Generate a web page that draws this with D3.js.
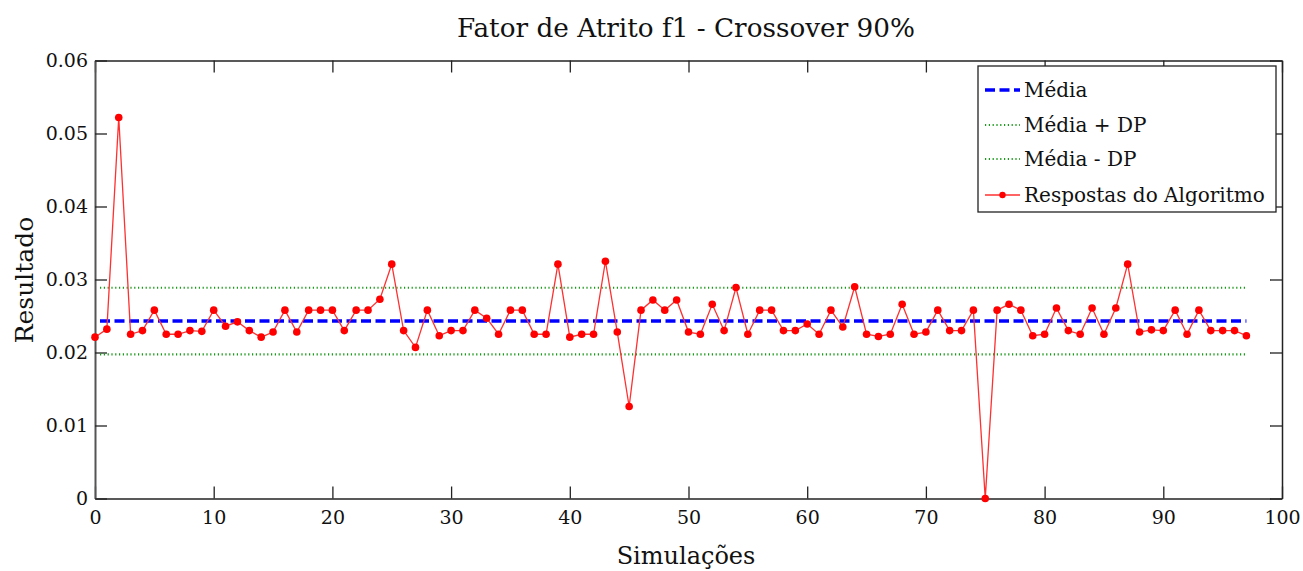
<!DOCTYPE html>
<html><head><meta charset="utf-8">
<script src="https://cdn.jsdelivr.net/npm/d3@7"></script>
<style>body{margin:0;background:#fff}svg{display:block}text{font-family:"DejaVu Serif",serif;fill:#111}</style>
</head><body><svg id="c" width="1303" height="571"></svg>
<script>
const simulations = d3.range(0, 98);
const results = [0.0221,0.0232,0.0522,0.0225,0.0230,0.0258,0.0225,0.0225,0.0230,0.0229,
0.0258,0.0236,0.0242,0.0230,0.0221,0.0228,0.0258,0.0228,0.0258,0.0258,
0.0258,0.0230,0.0258,0.0258,0.0273,0.0321,0.0230,0.0207,0.0258,0.0223,
0.0230,0.0230,0.0258,0.0247,0.0225,0.0258,0.0258,0.0225,0.0225,0.0321,
0.0221,0.0225,0.0225,0.0325,0.0228,0.0126,0.0258,0.0272,0.0258,0.0272,
0.0228,0.0225,0.0266,0.0230,0.0289,0.0225,0.0258,0.0258,0.0230,0.0230,
0.0239,0.0225,0.0258,0.0235,0.0290,0.0225,0.0222,0.0225,0.0266,0.0225,
0.0228,0.0258,0.0230,0.0230,0.0258,0.0000,0.0258,0.0266,0.0258,0.0223,
0.0225,0.0261,0.0230,0.0225,0.0261,0.0225,0.0261,0.0321,0.0228,0.0231,
0.0230,0.0258,0.0225,0.0258,0.0230,0.0230,0.0230,0.0223];
const mean = 0.0243;
const sd = 0.00457;
const xTicks = [0,10,20,30,40,50,60,70,80,90,100];
const yTicks = [0,0.01,0.02,0.03,0.04,0.05,0.06];
const legendLabels = ["Média","Média + DP","Média - DP","Respostas do Algoritmo"];
const titleText = "Fator de Atrito f1 - Crossover 90%";
const xLabel = "Simulações", yLabel = "Resultado";

const svg = d3.select("#c");
const L=95, R=1282, T=60.5, B=498.5;
const x = d3.scaleLinear().domain([0,100]).range([L,R]);
const y = d3.scaleLinear().domain([0,0.06]).range([B,T]);

const fmtY = d => d===0 ? "0" : d3.format(".2f")(d);
svg.append("g").attr("transform",`translate(0,${B})`)
  .call(d3.axisBottom(x).tickValues(xTicks).tickSizeInner(-12).tickSizeOuter(0).tickPadding(12))
  .call(g=>{g.select(".domain").attr("stroke","#222").attr("stroke-width",1.5);g.selectAll("line").attr("stroke","#222").attr("stroke-width",1.3);g.selectAll("text").attr("font-size",19).attr("font-family","DejaVu Serif").attr("fill","#111");});
svg.append("g").attr("transform",`translate(0,${T})`)
  .call(d3.axisTop(x).tickValues(xTicks).tickSizeInner(-12).tickSizeOuter(0).tickFormat(""))
  .call(g=>{g.select(".domain").attr("stroke","#222").attr("stroke-width",1.3);g.selectAll("line").attr("stroke","#222").attr("stroke-width",1.3);});
svg.append("g").attr("transform",`translate(${L},0)`)
  .call(d3.axisLeft(y).tickValues(yTicks).tickSizeInner(-12).tickSizeOuter(0).tickPadding(7).tickFormat(fmtY))
  .call(g=>{g.select(".domain").attr("stroke","#555").attr("stroke-width",2);g.selectAll("line").attr("stroke","#222").attr("stroke-width",1.3);g.selectAll("text").attr("font-size",19).attr("font-family","DejaVu Serif").attr("fill","#111");});
svg.append("g").attr("transform",`translate(${R},0)`)
  .call(d3.axisRight(y).tickValues(yTicks).tickSizeInner(-12).tickSizeOuter(0).tickFormat(""))
  .call(g=>{g.select(".domain").attr("stroke","#222").attr("stroke-width",1.5);g.selectAll("line").attr("stroke","#222").attr("stroke-width",1.3);});

const x0 = simulations[0], x1 = simulations[simulations.length-1];
const hline = (v,stroke,w,dash)=>svg.append("line").attr("x1",x(x0)+5).attr("x2",x(x1)).attr("y1",y(v)).attr("y2",y(v))
  .attr("stroke",stroke).attr("stroke-width",w).attr("stroke-dasharray",dash);
hline(mean+sd,"#1a9a1a",2.2,"1.2,2.6");
hline(mean-sd,"#1a9a1a",2.2,"1.2,2.6");
hline(mean,"#0000ff",3.5,"10,4.5");

const line = d3.line().x((d,i)=>x(simulations[i])).y(d=>y(d));
svg.append("path").datum(results).attr("d",line).attr("fill","none").attr("stroke","#ff3030").attr("stroke-width",1.3);
svg.append("g").selectAll("circle").data(results).join("circle")
  .attr("cx",(d,i)=>x(simulations[i])).attr("cy",d=>y(d)).attr("r",3.8).attr("fill","#ff0000");

const lg = svg.append("g");
lg.append("rect").attr("x",978).attr("y",66).attr("width",298).attr("height",146).attr("fill","#fff").attr("stroke","#222").attr("stroke-width",1.3);
const ly = [90,125,159,195];
const styles = [{s:"#0000ff",w:3.5,d:"10,4.5"},{s:"#1a9a1a",w:2.2,d:"1.2,2.6"},{s:"#1a9a1a",w:2.2,d:"1.2,2.6"},{s:"#ff3030",w:1.3,d:null}];
legendLabels.forEach((t,i)=>{
  lg.append("line").attr("x1",985).attr("x2",1020).attr("y1",ly[i]).attr("y2",ly[i])
    .attr("stroke",styles[i].s).attr("stroke-width",styles[i].w).attr("stroke-dasharray",styles[i].d);
  if(i===3) lg.append("circle").attr("cx",1002.5).attr("cy",ly[i]).attr("r",3.2).attr("fill","#ff0000");
  lg.append("text").attr("x",1024).attr("y",ly[i]).attr("dy","0.35em").attr("font-size",20).text(t);
});

svg.append("text").attr("x",686).attr("y",37).attr("text-anchor","middle").attr("font-size",26)
  .attr("textLength",458).attr("lengthAdjust","spacingAndGlyphs").text(titleText);
svg.append("text").attr("x",686).attr("y",564).attr("text-anchor","middle").attr("font-size",24).text(xLabel);
svg.append("text").attr("transform","translate(33,280) rotate(-90)").attr("text-anchor","middle").attr("font-size",25).text(yLabel);
</script></body></html>
